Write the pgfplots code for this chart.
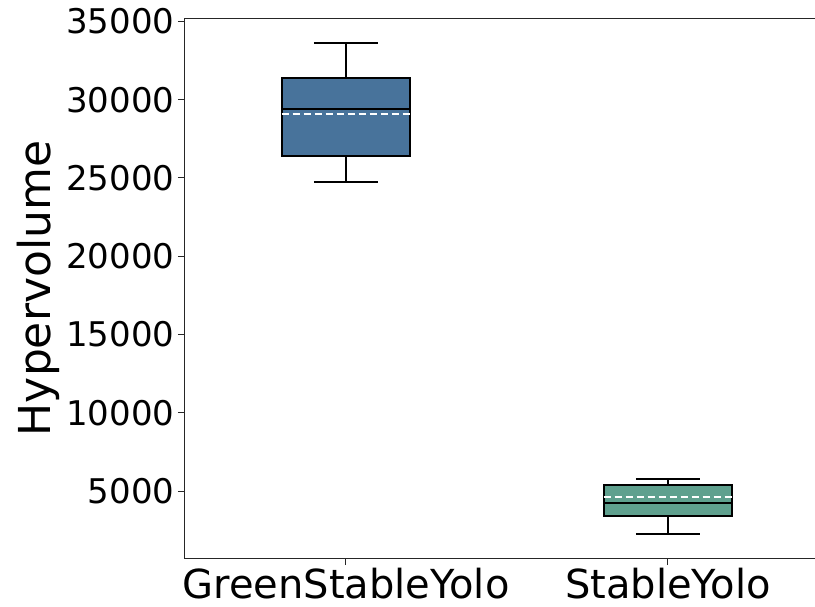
\documentclass[border=0pt]{standalone}
\usepackage{fontspec}
\setmainfont{DejaVu Sans}
\usepackage{pgfplots}
\pgfplotsset{compat=1.18}
\definecolor{boxA}{HTML}{48739B}
\definecolor{boxB}{HTML}{5FA08E}
\begin{document}
\begin{tikzpicture}
\begin{axis}[
  at={(0,0)}, anchor=south west,
  scale only axis,
  width=644pt, height=539pt,
  xmin=0.5, xmax=2.5,
  ymin=730, ymax=35150,
  axis line style={line width=1pt, black!85},
  xtick={1,2}, xticklabels={GreenStableYolo,StableYolo},
  ytick={5000,10000,15000,20000,25000,30000,35000},
  tick pos=left,
  tick align=outside, major tick length=7pt,
  tick style={line width=1pt, black!85},
  scaled y ticks=false,
  yticklabel={\pgfmathprintnumber[1000 sep={},assume math mode=true,fixed,precision=0]{\tick}},
  xticklabel style={font=\fontsize{40}{48}\selectfont},
  yticklabel style={font=\fontsize{34}{41}\selectfont},
  ylabel={Hypervolume},
  ylabel style={font=\fontsize{44}{52}\selectfont},
  every axis plot/.append style={line width=2pt},
]
% GreenStableYolo: whiskers and caps
\addplot[black] coordinates {(1,31375) (1,33613)};
\addplot[black] coordinates {(1,26407) (1,24763)};
\addplot[black] coordinates {(0.9,33613) (1.1,33613)};
\addplot[black] coordinates {(0.9,24763) (1.1,24763)};
\addplot[black, fill=boxA] coordinates {(0.8,26407) (1.2,26407) (1.2,31375) (0.8,31375)} -- cycle;
\addplot[black] coordinates {(0.8,29393) (1.2,29393)};
\addplot[white, dash pattern=on 7pt off 4pt] coordinates {(0.8,29073) (1.2,29073)};
% StableYolo
\addplot[black] coordinates {(2,5416) (2,5773)};
\addplot[black] coordinates {(2,3389) (2,2257)};
\addplot[black] coordinates {(1.9,5773) (2.1,5773)};
\addplot[black] coordinates {(1.9,2257) (2.1,2257)};
\addplot[black, fill=boxB] coordinates {(1.8,3389) (2.2,3389) (2.2,5416) (1.8,5416)} -- cycle;
\addplot[black] coordinates {(1.8,4265) (2.2,4265)};
\addplot[white, dash pattern=on 7pt off 4pt] coordinates {(1.8,4623) (2.2,4623)};
\end{axis}
\pgfresetboundingbox
\useasboundingbox (-185pt,-48pt) rectangle (630pt,558pt);
\end{tikzpicture}
\end{document}
